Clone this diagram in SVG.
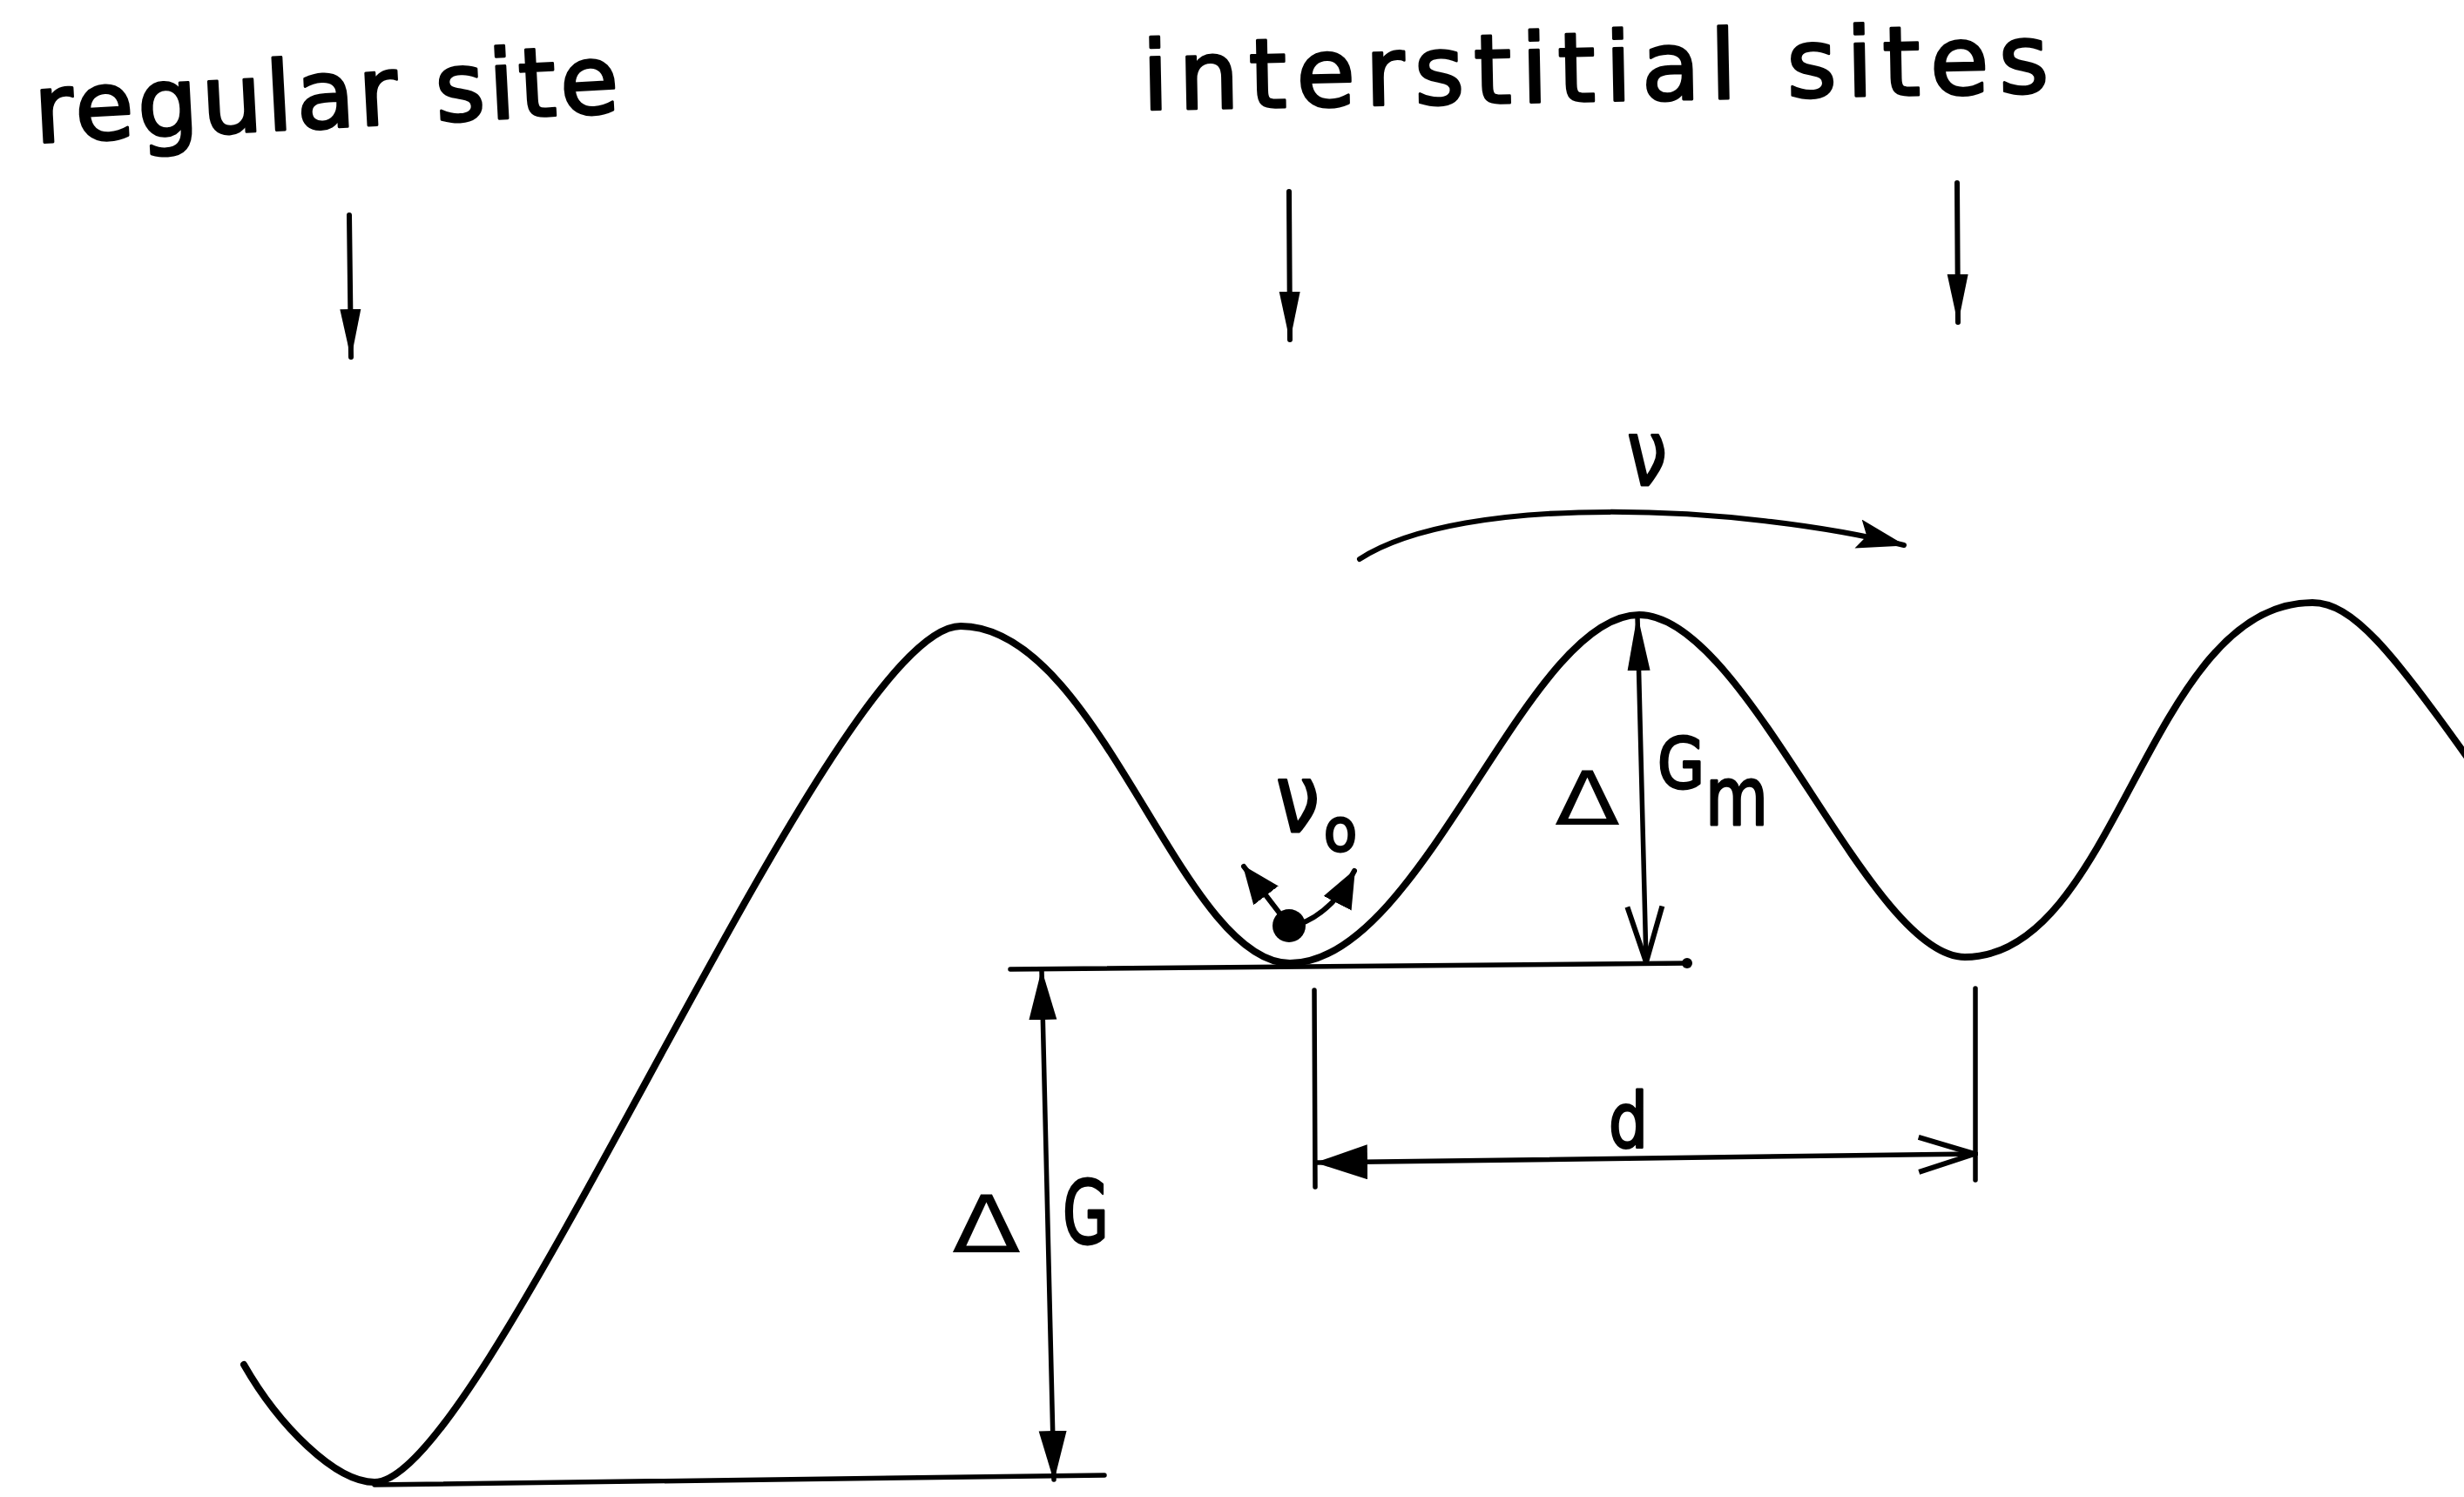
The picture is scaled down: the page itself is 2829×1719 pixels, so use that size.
<svg xmlns="http://www.w3.org/2000/svg" width="2829" height="1719" viewBox="0 0 2829 1719">
<style>
  .bg{fill:#ffffff}
  .curve{fill:none;stroke:#000;stroke-width:8;stroke-linecap:round;stroke-linejoin:round}
  .ln{fill:none;stroke:#000;stroke-width:5.5;stroke-linecap:round}
  .shaft{fill:none;stroke:#000;stroke-width:6;stroke-linecap:round}
  .lbl{font-family:"DejaVu Sans","Liberation Sans",sans-serif;fill:#000;stroke:#000;stroke-width:3;stroke-linejoin:round}
  .delta{font-family:"DejaVu Sans","Liberation Sans",sans-serif;fill:#000;stroke:none}
</style>
<defs>
  <marker id="ahSite" markerUnits="userSpaceOnUse" viewBox="0 0 57 28" refX="55" refY="14" markerWidth="57" markerHeight="28" orient="auto">
    <path d="M0,2 L57,14 L0,26 Z" fill="#000"/>
  </marker>
  <marker id="ahDim" markerUnits="userSpaceOnUse" viewBox="0 0 58 36" refX="56" refY="18" markerWidth="58" markerHeight="36" orient="auto-start-reverse">
    <path d="M0,2 L58,18 L0,34 Z" fill="#000"/>
  </marker>
  <marker id="ahNarrow" markerUnits="userSpaceOnUse" viewBox="0 0 64 28" refX="62" refY="14" markerWidth="64" markerHeight="28" orient="auto-start-reverse">
    <path d="M0,1 L64,14 L0,27 Z" fill="#000"/>
  </marker>
  <marker id="ahOpen" markerUnits="userSpaceOnUse" viewBox="-4 -4 72 52" refX="64" refY="22" markerWidth="72" markerHeight="52" orient="auto">
    <path d="M0,2 L64,22 L0,42" fill="none" stroke="#000" stroke-width="6" stroke-linejoin="miter"/>
  </marker>
  <marker id="ahArc" markerUnits="userSpaceOnUse" viewBox="0 0 56 34" refX="54" refY="17" markerWidth="56" markerHeight="34" orient="auto">
    <path d="M0,0 L56,17 L0,34 L10,17 Z" fill="#000"/>
  </marker>
  <marker id="ahD" markerUnits="userSpaceOnUse" viewBox="0 0 60 40" refX="58" refY="20" markerWidth="60" markerHeight="40" orient="auto-start-reverse">
    <path d="M0,0 L60,20 L0,40 Z" fill="#000"/>
  </marker>
  <marker id="ahSmall" markerUnits="userSpaceOnUse" viewBox="0 0 44 36" refX="42" refY="18" markerWidth="44" markerHeight="36" orient="auto">
    <path d="M0,0 L44,18 L0,36 Z" fill="#000"/>
  </marker>
</defs>
<rect class="bg" x="0" y="0" width="2829" height="1719"/>

<g id="energy-curve">
  <path class="curve" d="M280,1567 C320,1637 385,1702 430,1702 C558,1702 955,719 1103,719 C1263,719 1356,1106 1481,1106 C1633,1106 1752,706 1882,706 C2006,706 2145,1099 2256,1099 C2432,1099 2466,692 2655,692 C2700,692 2745,745 2840,880"/>
</g>

<g id="label-regular-site">
  <text class="lbl" x="41" y="164" font-size="110" textLength="672" lengthAdjust="spacing" transform="rotate(-3 41 164)">regular site</text>
</g>
<g id="label-interstitial-sites">
  <text class="lbl" x="1312" y="126" font-size="110" textLength="1041" lengthAdjust="spacing" transform="rotate(-1.1 1312 126)">interstitial sites</text>
</g>

<g id="particle">
  <circle cx="1480" cy="1063" r="19" fill="#000"/>
  <text class="lbl" x="1465" y="955" font-size="108" textLength="50" lengthAdjust="spacingAndGlyphs">ν</text>
  <text class="lbl" x="1520" y="977" font-size="68" textLength="38" lengthAdjust="spacingAndGlyphs">o</text>
</g>

<g id="label-nu">
  <text class="lbl" x="1868" y="557" font-size="105" textLength="46" lengthAdjust="spacingAndGlyphs">ν</text>
</g>

<g id="label-dGm">
  <text class="delta" x="1785" y="947" font-size="85" textLength="75" lengthAdjust="spacingAndGlyphs">Δ</text>
  <text class="lbl" x="1903" y="905" font-size="80" textLength="54" lengthAdjust="spacingAndGlyphs">G</text>
  <text class="lbl" x="1958" y="947" font-size="92" textLength="72" lengthAdjust="spacingAndGlyphs">m</text>
</g>

<g id="label-dG">
  <text class="delta" x="1093" y="1438" font-size="90" textLength="79" lengthAdjust="spacingAndGlyphs">Δ</text>
  <text class="lbl" x="1220" y="1428" font-size="100" textLength="53" lengthAdjust="spacingAndGlyphs">G</text>
</g>

<g id="label-d">
  <text class="lbl" x="1847" y="1317" font-size="88" textLength="45" lengthAdjust="spacingAndGlyphs">d</text>
</g>

<g id="connectors">
  <!-- site arrows -->
  <line class="shaft" x1="401" y1="247" x2="403" y2="410" marker-end="url(#ahSite)"/>
  <line class="shaft" x1="1480" y1="220" x2="1481" y2="390" marker-end="url(#ahSite)"/>
  <line class="shaft" x1="2247" y1="210" x2="2248" y2="370" marker-end="url(#ahSite)"/>
  <!-- reference levels -->
  <line class="ln" x1="1160" y1="1113" x2="1937" y2="1106"/>
  <circle cx="1937" cy="1106" r="6" fill="#000"/>
  <line class="ln" x1="430" y1="1705" x2="1268" y2="1694"/>
  <!-- Delta G -->
  <line class="ln" x1="1196" y1="1115" x2="1210" y2="1699" marker-start="url(#ahDim)" marker-end="url(#ahDim)"/>
  <!-- Delta G_m -->
  <line class="ln" x1="1880" y1="708" x2="1890" y2="1105" marker-start="url(#ahNarrow)" marker-end="url(#ahOpen)"/>
  <!-- d dimension -->
  <line class="ln" x1="1509" y1="1137" x2="1510" y2="1363"/>
  <line class="ln" x1="2268" y1="1135" x2="2268" y2="1355"/>
  <line class="ln" x1="1512" y1="1335" x2="2267" y2="1325" marker-start="url(#ahD)" marker-end="url(#ahOpen)"/>
  <!-- jump arc nu -->
  <path class="shaft" d="M1561,642 C1680,565 2000,580 2186,626" marker-end="url(#ahArc)"/>
  <!-- vibration arrows nu0 -->
  <line class="shaft" x1="1474" y1="1055" x2="1428" y2="995" marker-end="url(#ahSmall)"/>
  <path class="shaft" d="M1490,1062 Q1530,1048 1555,1000" marker-end="url(#ahSmall)"/>
</g>
</svg>
